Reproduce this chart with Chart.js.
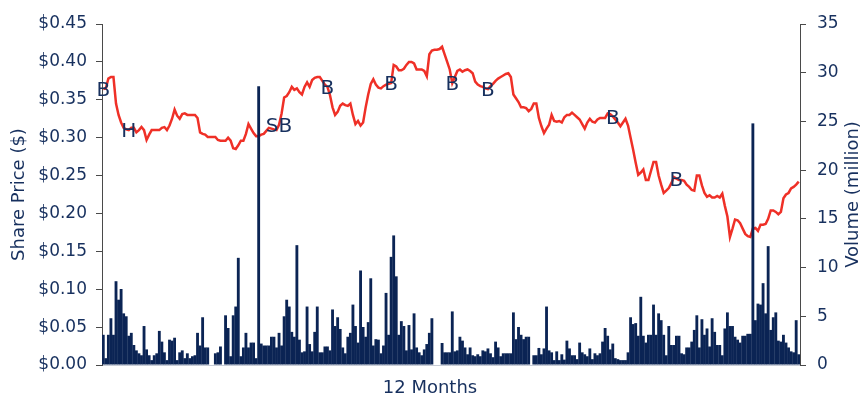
<!DOCTYPE html>
<html>
<head>
<meta charset="utf-8">
<title>Share price and volume – 12 months</title>
<script src="https://cdn.jsdelivr.net/npm/chart.js@4.4.1/dist/chart.umd.min.js"></script>
<style>
  html, body { margin: 0; padding: 0; background: #ffffff; }
  #wrap { width: 864px; height: 394px; }
</style>
</head>
<body>
<div id="wrap"><canvas id="chart" width="864" height="394"></canvas></div>
<script>
// Daily closing share price ($), one value per trading day
const prices = [
  0.364, 0.365, 0.378, 0.38, 0.38, 0.345, 0.33, 0.32, 0.313, 0.311,
  0.31, 0.313, 0.313, 0.307, 0.31, 0.314, 0.31, 0.297, 0.304, 0.31,
  0.31, 0.31, 0.31, 0.313, 0.314, 0.31, 0.316, 0.325, 0.337, 0.329,
  0.325, 0.331, 0.332, 0.33, 0.33, 0.33, 0.33, 0.326, 0.307, 0.305,
  0.304, 0.301, 0.301, 0.301, 0.301, 0.297, 0.296, 0.296, 0.296, 0.30,
  0.296, 0.286, 0.285, 0.29, 0.296, 0.296, 0.305, 0.318, 0.312, 0.306,
  0.302, 0.302, 0.304, 0.305, 0.309, 0.313, 0.312, 0.311, 0.31, 0.317,
  0.332, 0.353, 0.355, 0.36, 0.367, 0.363, 0.365, 0.36, 0.357, 0.367,
  0.373, 0.367, 0.376, 0.379, 0.38, 0.38, 0.375, 0.37, 0.367, 0.356,
  0.34, 0.33, 0.334, 0.342, 0.345, 0.343, 0.342, 0.345, 0.33, 0.318,
  0.322, 0.316, 0.32, 0.34, 0.357, 0.371, 0.377, 0.37, 0.366, 0.365,
  0.368, 0.37, 0.371, 0.372, 0.396, 0.394, 0.389, 0.389, 0.391, 0.396,
  0.40, 0.40, 0.398, 0.39, 0.39, 0.39, 0.388, 0.381, 0.41, 0.415,
  0.416, 0.416, 0.417, 0.42, 0.41, 0.40, 0.39, 0.372, 0.38, 0.388,
  0.39, 0.387, 0.389, 0.39, 0.388, 0.385, 0.374, 0.37, 0.368, 0.367,
  0.365, 0.364, 0.368, 0.371, 0.375, 0.378, 0.38, 0.382, 0.384, 0.385,
  0.38, 0.357, 0.352, 0.347, 0.34, 0.34, 0.339, 0.335, 0.338, 0.345,
  0.345, 0.326, 0.315, 0.306, 0.312, 0.317, 0.33, 0.322, 0.321, 0.322,
  0.32, 0.327, 0.33, 0.33, 0.333, 0.33, 0.327, 0.324, 0.318, 0.312,
  0.32, 0.325, 0.321, 0.32, 0.324, 0.326, 0.326, 0.326, 0.332, 0.331,
  0.328, 0.324, 0.32, 0.315, 0.32, 0.325, 0.316, 0.30, 0.284, 0.267,
  0.251, 0.254, 0.258, 0.244, 0.244, 0.256, 0.268, 0.268, 0.25, 0.238,
  0.227, 0.23, 0.2335, 0.24, 0.248, 0.246, 0.244, 0.244, 0.243, 0.238,
  0.235, 0.231, 0.23, 0.25, 0.25, 0.237, 0.227, 0.222, 0.224, 0.221,
  0.221, 0.223, 0.221, 0.226, 0.21, 0.196, 0.169, 0.18, 0.192, 0.191,
  0.187, 0.18, 0.173, 0.17, 0.169, 0.18, 0.181, 0.177, 0.185, 0.185,
  0.186, 0.193, 0.204, 0.204, 0.202, 0.199, 0.202, 0.22, 0.225, 0.227,
  0.233, 0.235, 0.238, 0.242
];

// Daily traded volume (million shares); null = no trading recorded
const volumes = [
  3.1, 0.7, 3.1, 4.8, 3.1, 8.6, 6.7, 7.8, 5.3, 5.0,
  3.0, 3.3, 2.05, 1.5, 1.2, 1.0, 4.0, 1.6, 1.0, 0.5,
  1.0, 1.2, 3.5, 2.4, 1.3, 0.5, 2.6, 2.5, 2.8, 0.5,
  1.3, 1.5, 0.7, 1.2, 0.7, 0.9, 1.0, 3.3, 2.0, 4.9,
  1.8, 1.8, null, null, 1.2, 1.3, 1.9, null,
  5.1, 3.8, 0.9, 5.1, 6.0, 11.0, 0.9, 1.8, 3.3, 1.8,
  2.3, 2.3, 0.7, 28.6, 2.2, 2.0, 2.0, 2.0, 2.9, 2.9,
  1.8, 3.3, 2.0, 5.0, 6.7, 6.0, 3.4, 2.9, 12.3, 2.6,
  1.3, 1.4, 6.0, 2.15, 1.4, 3.4, 6.0, 1.3, 1.3, 1.9,
  1.9, 1.5, 5.7, 4.0, 4.9, 3.7, 1.8, 1.2, 2.9, 3.3,
  6.2, 4.0, 2.3, 9.7, 3.9, 2.9, 4.4, 8.9, 2.0, 2.65,
  2.6, 1.2, 2.0, 7.4, 3.1, 11.1, 13.3, 9.1, 3.1, 4.5,
  4.0, 1.5, 4.1, 1.6, 5.3, 1.8, 1.3, 1.0, 1.6, 2.15,
  3.3, 4.8, null, null, null,
  2.26, 1.3, 1.3, 1.3, 5.5, 1.4, 1.5, 2.9, 2.5, 1.8,
  1.1, 1.8, 1.0, 0.9, 1.1, 0.9, 1.5, 1.4, 1.7, 1.2,
  0.8, 2.4, 1.8, 0.9, 1.2, 1.2, 1.2, 1.2, 5.4, 2.65,
  3.9, 3.1, 2.65, 2.9, 2.9, null,
  1.0, 1.0, 1.75, 1.1, 1.7, 6.0, 1.5, 1.3, 0.5, 1.4,
  0.5, 1.1, 0.55, 2.5, 1.7, 1.0, 1.0, 0.6, 2.3, 1.3,
  1.1, 0.9, 1.7, 0.6, 1.2, 1.0, 1.2, 2.4, 3.8, 3.0,
  1.6, 2.2, 0.7, 0.6, 0.5, 0.5, 0.5, 1.3, 4.9, 4.2,
  4.3, 3.0, 7.0, 3.0, 2.3, 3.1, 3.1, 6.2, 3.1, 5.3,
  4.6, 3.1, 1.0, 4.0, 2.05, 2.05, 3.0, 3.0, 1.2, 1.1,
  1.8, 1.8, 2.4, 3.6, 5.1, 1.8, 4.7, 3.1, 3.75, 1.9,
  4.8, 3.4, 2.05, 2.05, 1.0, 3.75, 5.4, 4.0, 4.0, 2.9,
  2.6, 2.3, 3.0, 3.0, 3.2, 3.2, 24.8, 4.6, 6.3, 6.2,
  8.4, 5.3, 12.2, 3.6, 4.9, 5.4, 2.5, 2.4, 3.1, 2.3,
  1.8, 1.4, 1.3, 4.6, 1.1
];

// Trading-day categories (1 … n)
const days = volumes.map((_, i) => String(i + 1));

// Event markers on the price line: trading-day index and marker text
const noteDays = [0, 10, 69, 88, 113, 137, 151, 200, 225];
const noteTexts = ['B', 'H', 'SB', 'B', 'B', 'B', 'B', 'B', 'B'];

// Axis tick values
const priceTicks = [0, 0.05, 0.10, 0.15, 0.20, 0.25, 0.30, 0.35, 0.40, 0.45];
const volumeTicks = [0, 5, 10, 15, 20, 25, 30, 35];

const NAVY = '#0b2454';
const TEXT = '#17305e';
const RED = '#ef3027';
const AXIS = '#4a4a4a';
const FONT = '"DejaVu Sans", "Liberation Sans", sans-serif';

Chart.defaults.font.family = FONT;
Chart.defaults.color = TEXT;

// Markers on the price line plus the bottom and right-hand axis titles
const overlay = {
  id: 'overlay',
  afterDatasetsDraw(chart) {
    const ctx = chart.ctx;
    const meta = chart.getDatasetMeta(1);
    ctx.save();
    ctx.fillStyle = TEXT;
    ctx.font = '20px ' + FONT;
    ctx.textAlign = 'center';
    ctx.textBaseline = 'middle';
    noteDays.forEach((d, k) => {
      const pt = meta.data[d];
      ctx.fillText(noteTexts[k], pt.x, pt.y + 2);
    });
    ctx.restore();
  },
  afterDraw(chart) {
    const ctx = chart.ctx;
    const area = chart.chartArea;
    ctx.save();
    ctx.fillStyle = TEXT;
    ctx.font = '18px ' + FONT;
    ctx.textAlign = 'center';
    ctx.textBaseline = 'alphabetic';
    ctx.fillText('12 Months', 430, chart.height - 1);
    ctx.translate(chart.width - 11, (area.top + area.bottom) / 2);
    ctx.rotate(-Math.PI / 2);
    ctx.textBaseline = 'middle';
    ctx.fillText('Volume (million)', 0, 0);
    ctx.restore();
  }
};

new Chart(document.getElementById('chart'), {
  data: {
    labels: days,
    datasets: [
      {
        type: 'bar',
        label: 'Volume',
        data: volumes,
        yAxisID: 'y1',
        backgroundColor: NAVY,
        borderWidth: 0,
        barPercentage: 1.12,
        categoryPercentage: 1,
        order: 0
      },
      {
        type: 'line',
        label: 'Share Price',
        data: prices,
        yAxisID: 'y',
        borderColor: RED,
        borderWidth: 2.5,
        pointRadius: 0,
        tension: 0,
        fill: false,
        order: 1
      }
    ]
  },
  options: {
    responsive: false,
    animation: false,
    devicePixelRatio: 1,
    layout: { padding: { top: 24, left: 0, right: 0, bottom: 0 } },
    plugins: {
      legend: { display: false },
      tooltip: { enabled: false }
    },
    scales: {
      x: {
        type: 'category',
        offset: true,
        ticks: { display: false },
        grid: { display: false },
        border: { display: true, color: '#c7ccd6', width: 1 },
        afterFit(scale) { scale.height = 29; }
      },
      y: {
        type: 'linear',
        position: 'left',
        min: priceTicks[0],
        max: priceTicks[priceTicks.length - 1],
        afterBuildTicks(scale) { scale.ticks = priceTicks.map(v => ({ value: v })); },
        ticks: {
          padding: 9,
          color: TEXT,
          font: { size: 17 },
          callback: v => '$' + Number(v).toFixed(2)
        },
        grid: { drawOnChartArea: false, drawTicks: true, tickLength: 6, color: AXIS },
        border: { display: true, color: AXIS, width: 1 },
        title: {
          display: true,
          text: 'Share Price ($)',
          color: TEXT,
          font: { size: 18 },
          padding: { top: 9, bottom: 0 }
        },
        afterFit(scale) { scale.width = 102; }
      },
      y1: {
        type: 'linear',
        position: 'right',
        min: volumeTicks[0],
        max: volumeTicks[volumeTicks.length - 1],
        afterBuildTicks(scale) { scale.ticks = volumeTicks.map(v => ({ value: v })); },
        ticks: {
          padding: 11,
          color: TEXT,
          font: { size: 17 },
          callback: v => String(v)
        },
        grid: { drawOnChartArea: false, drawTicks: true, tickLength: 6, color: AXIS },
        border: { display: true, color: AXIS, width: 1 },
        afterFit(scale) { scale.width = 64; }
      }
    }
  },
  plugins: [overlay]
});
</script>
</body>
</html>
